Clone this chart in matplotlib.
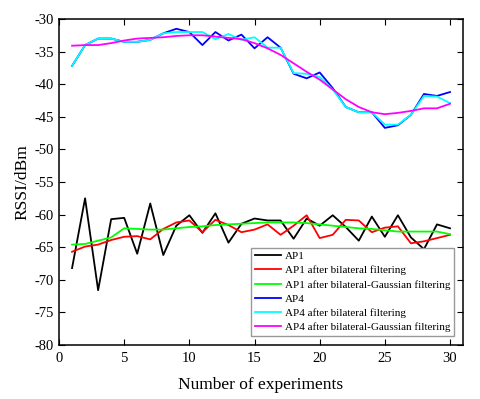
"""
RSSI of AP1 and AP4 before and after filtering
"""

import numpy as np
import matplotlib
matplotlib.use("Agg")
import matplotlib.pyplot as plt

plt.rcParams["font.family"] = ["Liberation Serif", "DejaVu Serif"]
plt.rcParams["axes.unicode_minus"] = False

experiments = np.arange(1, 31)

ap1_raw = [-68.2, -57.5, -71.6, -60.7, -60.5, -66.0, -58.3, -66.2, -61.7, -60.1,
           -62.8, -59.8, -64.3, -61.4, -60.6, -60.9, -60.9, -63.7, -60.6, -61.7,
           -60.1, -61.9, -64.0, -60.3, -63.4, -60.1, -63.5, -65.3, -61.5, -62.1]
ap1_bilateral = [-65.7, -64.9, -64.6, -63.9, -63.4, -63.3, -63.8, -62.2, -61.2, -60.9,
                 -62.7, -60.8, -61.6, -62.7, -62.3, -61.5, -63.1, -61.7, -60.1, -63.6,
                 -63.1, -60.8, -60.9, -62.7, -62.0, -61.8, -64.4, -64.1, -63.6, -63.1]
ap1_bil_gauss = [-64.6, -64.5, -64.0, -63.5, -62.1, -62.2, -62.3, -62.3, -62.1, -61.9,
                 -61.8, -61.6, -61.5, -61.4, -61.3, -61.2, -61.2, -61.2, -61.3, -61.5,
                 -61.7, -61.9, -62.1, -62.2, -62.4, -62.6, -62.6, -62.6, -62.6, -63.0]
ap4_raw = [-37.2, -34.0, -33.0, -33.0, -33.5, -33.5, -33.2, -32.2, -31.5, -32.0,
           -34.0, -32.0, -33.3, -32.4, -34.5, -32.8, -34.4, -38.4, -39.1, -38.2,
           -40.6, -43.5, -44.3, -44.3, -46.7, -46.3, -44.7, -41.5, -41.8, -41.2]
ap4_bilateral = [-37.2, -34.0, -33.0, -33.0, -33.5, -33.5, -33.2, -32.2, -32.0, -32.0,
                 -32.0, -33.1, -32.3, -33.2, -32.8, -34.4, -34.4, -38.3, -38.4, -38.9,
                 -40.8, -43.5, -44.3, -44.3, -46.2, -46.2, -44.7, -41.8, -41.9, -42.9]
ap4_bil_gauss = [-34.1, -34.0, -34.0, -33.7, -33.3, -33.0, -32.9, -32.8, -32.6, -32.5,
                 -32.5, -32.7, -32.9, -33.1, -33.7, -34.5, -35.5, -36.8, -38.1, -39.3,
                 -40.8, -42.3, -43.5, -44.3, -44.6, -44.4, -44.1, -43.7, -43.7, -43.0]

series = [
    ("AP1", ap1_raw, "black"),
    ("AP1 after bilateral filtering", ap1_bilateral, "#ff0000"),
    ("AP1 after bilateral-Gaussian filtering", ap1_bil_gauss, "#00ff00"),
    ("AP4", ap4_raw, "#0000ff"),
    ("AP4 after bilateral filtering", ap4_bilateral, "#00ffff"),
    ("AP4 after bilateral-Gaussian filtering", ap4_bil_gauss, "#ff00ff"),
]

fig = plt.figure(figsize=(4.81, 3.99), dpi=100)
ax = fig.add_axes([0.1227, 0.1353, 0.84, 0.8171])

for label, vals, color in series:
    ax.plot(experiments, vals, color=color, lw=1.3, label=label)

ax.set_xlim(0, 31)
ax.set_ylim(-80, -30)
ax.set_xticks(np.arange(0, 31, 5))
ax.set_yticks(np.arange(-80, -29, 5))
ax.tick_params(direction="in", top=True, right=True, length=4, labelsize=10.5)
ax.tick_params(axis="x", pad=5)
for sp in ax.spines.values():
    sp.set_linewidth(1.1)

ax.set_xlabel("Number of experiments", fontsize=12.5, labelpad=9)
ax.set_ylabel("RSSI/dBm", fontsize=12.5, labelpad=3)

leg = ax.legend(loc="lower right", fontsize=8, handlelength=2.4, handletextpad=0.3,
                labelspacing=0.4, borderpad=0.3, borderaxespad=0.85,
                fancybox=False, framealpha=1)
leg.get_frame().set_edgecolor("#999999")

fig.savefig("out.png", dpi=100)
